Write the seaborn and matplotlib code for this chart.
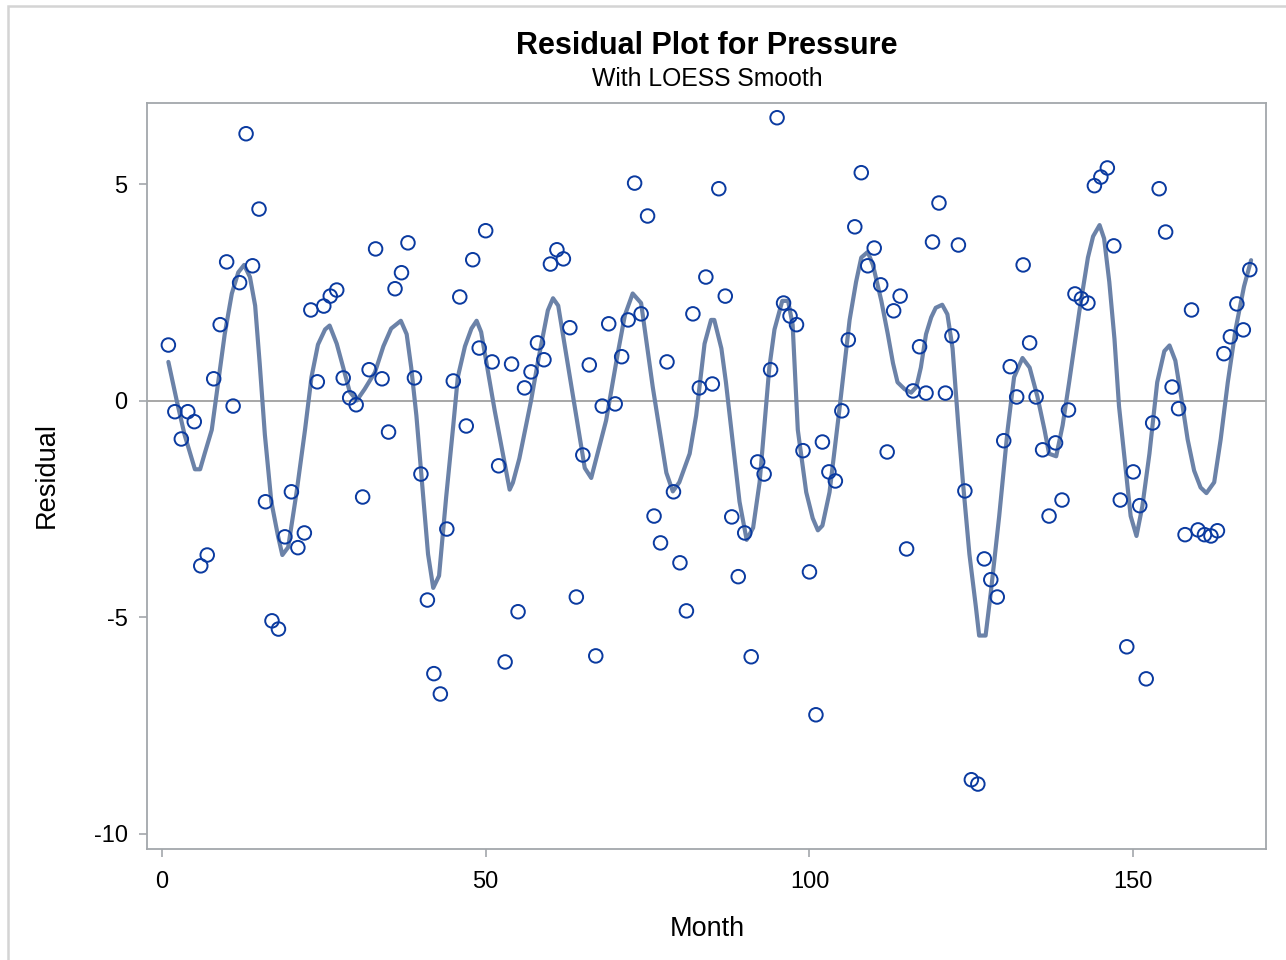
import numpy as np
import pandas as pd
import seaborn as sns
import matplotlib.pyplot as plt
from matplotlib.patches import Rectangle

# residuals, months 1..168
months = list(range(1, 169))
residuals = [
    1.29, -0.25, -0.88, -0.25, -0.48, -3.81, -3.56, 0.51, 1.76, 3.21,
    -0.12, 2.73, 6.17, 3.12, 4.43, -2.33, -5.08, -5.27, -3.14, -2.10,
    -3.39, -3.05, 2.10, 0.44, 2.19, 2.42, 2.56, 0.53, 0.07, -0.09,
    -2.22, 0.72, 3.51, 0.51, -0.72, 2.59, 2.96, 3.65, 0.53, -1.69,
    -4.60, -6.30, -6.77, -2.96, 0.46, 2.40, -0.58, 3.26, 1.22, 3.93,
    0.90, -1.50, -6.03, 0.85, -4.87, 0.30, 0.67, 1.34, 0.95, 3.16,
    3.49, 3.28, 1.69, -4.53, -1.25, 0.83, -5.89, -0.12, 1.78, -0.07,
    1.02, 1.87, 5.03, 2.01, 4.27, -2.66, -3.28, 0.90, -2.10, -3.74,
    -4.85, 2.01, 0.30, 2.86, 0.39, 4.90, 2.42, -2.68, -4.06, -3.05,
    -5.91, -1.41, -1.69, 0.72, 6.54, 2.26, 1.96, 1.76, -1.15, -3.95,
    -7.25, -0.95, -1.64, -1.85, -0.23, 1.41, 4.02, 5.27, 3.12, 3.53,
    2.68, -1.18, 2.08, 2.42, -3.42, 0.23, 1.25, 0.18, 3.67, 4.57,
    0.18, 1.50, 3.60, -2.08, -8.75, -8.85, -3.65, -4.13, -4.53, -0.92,
    0.79, 0.09, 3.14, 1.34, 0.09, -1.13, -2.66, -0.97, -2.29, -0.21,
    2.47, 2.36, 2.26, 4.97, 5.17, 5.38, 3.58, -2.29, -5.68, -1.64,
    -2.42, -6.42, -0.51, 4.90, 3.90, 0.32, -0.18, -3.09, 2.10, -2.98,
    -3.09, -3.12, -3.00, 1.09, 1.48, 2.24, 1.64, 3.03,
]

# loess curve
loess_month = [
    1.0, 2.3, 3.5, 5.1, 5.9, 6.6, 7.7, 8.7, 9.7, 10.8, 11.8, 12.7, 13.6, 14.4,
    15.1, 15.9, 16.9, 17.9, 18.6, 19.5, 20.8, 22.1, 23.1, 24.1, 25.2, 25.9,
    27.0, 28.0, 29.0, 30.1, 31.3, 32.9, 34.2, 35.4, 36.9, 37.8, 38.5, 39.3,
    40.3, 41.1, 41.9, 42.8, 43.9, 45.0, 45.7, 46.8, 47.8, 48.6, 49.3, 51.4,
    53.7, 54.2, 55.2, 57.0, 58.1, 59.6, 60.4, 61.2, 63.0, 65.3, 66.3, 68.6,
    70.4, 71.5, 72.7, 74.0, 75.8, 77.9, 78.9, 79.9, 81.5, 82.5, 83.8, 84.8,
    85.3, 86.4, 87.1, 89.2, 90.3, 91.3, 92.3, 93.8, 94.6, 95.8, 96.7, 97.4,
    98.2, 99.5, 100.5, 101.3, 102.0, 103.1, 104.6, 106.2, 107.2, 108.0, 109.0,
    109.8, 111.1, 112.1, 112.9, 113.6, 114.7, 115.7, 116.5, 117.2, 118.0,
    118.8, 119.5, 120.5, 121.3, 122.1, 123.0, 123.7, 124.7, 125.7, 126.2,
    127.2, 128.0, 129.3, 130.6, 131.6, 132.9, 134.0, 135.2, 136.3, 137.0,
    138.1, 139.1, 140.1, 141.7, 143.0, 143.8, 144.8, 145.5, 146.3, 147.1,
    147.8, 148.9, 149.6, 150.5, 151.4, 152.5, 153.7, 154.8, 155.6, 156.5,
    157.4, 158.4, 159.4, 160.4, 161.3, 162.5, 163.5, 164.6, 165.8, 167.1, 168.2,
]
loess_value = [
    0.90, 0.00, -0.78, -1.58, -1.58, -1.22, -0.67, 0.43, 1.54, 2.48, 2.97, 3.14, 2.86, 2.20,
    0.87, -0.78, -2.33, -3.10, -3.56, -3.38, -2.11, -0.67, 0.55, 1.30, 1.65, 1.74,
    1.32, 0.77, 0.21, 0.01, 0.27, 0.66, 1.26, 1.67, 1.85, 1.54, 0.77, -0.34,
    -2.11, -3.54, -4.32, -4.04, -2.22, -0.56, 0.55, 1.26, 1.67, 1.85, 1.59, -0.23,
    -2.05, -1.89, -1.33, 0.00, 0.93, 2.09, 2.37, 2.20, 0.55, -1.55, -1.78, -0.45,
    1.10, 1.98, 2.48, 2.26, 0.32, -1.66, -2.09, -1.88, -1.22, -0.34, 1.32, 1.87,
    1.87, 1.21, 0.43, -2.33, -3.21, -2.93, -1.88, 0.77, 1.65, 2.31, 2.31, 1.76,
    -0.67, -2.11, -2.71, -2.99, -2.88, -2.11, -0.23, 1.87, 2.75, 3.31, 3.44,
    3.14, 2.31, 1.54, 0.87, 0.43, 0.27, 0.19, 0.32, 0.77, 1.54,
    1.93, 2.15, 2.22, 2.00, 1.21, -0.60, -1.88, -3.54, -4.76, -5.42,
    -5.42, -4.43, -2.66, -0.67, 0.55, 0.99, 0.77, 0.10, -0.67, -1.22,
    -1.28, -0.56, 0.43, 2.09, 3.31, 3.80, 4.06, 3.75, 2.75, 1.43,
    -0.12, -1.66, -2.66, -3.12, -2.44, -1.22, 0.43, 1.15, 1.28, 0.93,
    0.10, -0.89, -1.61, -2.00, -2.13, -1.88, -0.89, 0.43, 1.65, 2.64, 3.25,
]

x_ticks = [0, 50, 100, 150]
y_ticks = [-10, -5, 0, 5]

pts = pd.DataFrame({"Month": months, "Residual": residuals})
fit = pd.DataFrame({"Month": loess_month, "Residual": loess_value})

sns.set_style("white")
plt.rcParams["font.family"] = ["Liberation Sans", "DejaVu Sans"]
plt.rcParams["axes.unicode_minus"] = False
plt.rcParams["text.color"] = "black"

frame_col = "#a3a7ab"
fig = plt.figure(figsize=(12.86, 9.6), dpi=100)
ax = fig.add_axes([147 / 1286, 1 - 849 / 960, (1266 - 147) / 1286, (849 - 103) / 960])

ax.axhline(0, color="#a0a0a0", lw=1.3, zorder=1)
sns.lineplot(data=fit, x="Month", y="Residual", ax=ax, sort=False,
             color="#6b82a8", lw=3.0, zorder=2)
sns.scatterplot(data=pts, x="Month", y="Residual", ax=ax, marker="o",
                s=95, facecolor="none", edgecolor="#0a3aa0", linewidth=1.4, zorder=3)

ax.set_xlim(-2.3, 170.5)
ax.set_ylim(-10.35, 6.88)
ax.set_xticks(x_ticks)
ax.set_yticks(y_ticks)
ax.tick_params(axis="both", direction="out", length=6, width=1.2, color=frame_col,
               labelsize=17, labelcolor="black")
ax.tick_params(axis="x", bottom=True, pad=10)
ax.tick_params(axis="y", left=True, pad=8)
for sp in ax.spines.values():
    sp.set_color(frame_col)
    sp.set_linewidth(1.3)
ax.set_xlabel("")
ax.set_ylabel("")

fig.text(707 / 1286, 1 - 46 / 960, "Residual Plot for Pressure", ha="center", va="center",
         fontsize=22, fontweight="bold")
fig.text(707 / 1286, 1 - 79 / 960, "With LOESS Smooth", ha="center", va="center", fontsize=17.8)
fig.text(707 / 1286, 1 - 929 / 960, "Month", ha="center", va="center", fontsize=19.5)
fig.text(47 / 1286, 1 - 475 / 960, "Residual", ha="center", va="center", fontsize=19.5,
         rotation=90)

fig.patches.append(Rectangle((8 / 1286, -0.1), 1.2, 1 - 6 / 960 + 0.1, transform=fig.transFigure,
                             fill=False, edgecolor="#d4d4d4", lw=1.8))

fig.savefig("out.png", dpi=100)
